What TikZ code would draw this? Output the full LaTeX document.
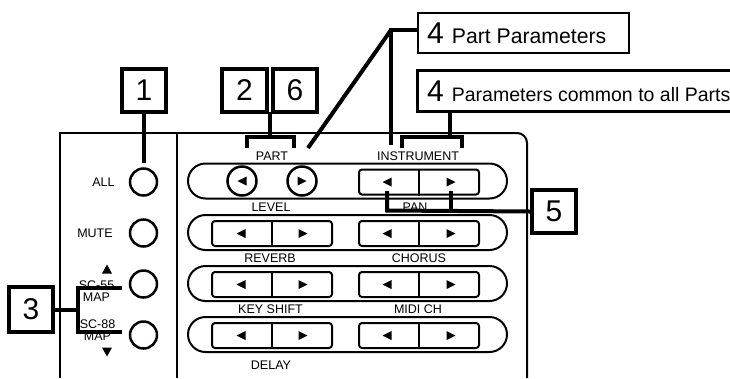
\documentclass[tikz,border=0pt]{standalone}
\usepackage{fontspec}
\setmainfont{Liberation Sans}
\usetikzlibrary{shapes.misc,calc}
\newcommand\trileft[1]{\fill (#1) ++(-4.5,0) -- ++(9,-4.5) -- ++(0,9) -- cycle;}
\newcommand\triright[1]{\fill (#1) ++(4.5,0) -- ++(-9,-4.5) -- ++(0,9) -- cycle;}
\begin{document}
\begin{tikzpicture}[x=1pt,y=-1pt,
 numbox/.style={draw,line width=4,inner sep=0,minimum height=43,minimum width=44,font=\fontsize{30}{30}\selectfont},
 txtbox/.style={draw,line width=2.8,inner sep=0,minimum height=40},
 conn/.style={line width=4},
 panel/.style={line width=2},
 lbl/.style={inner sep=0,font=\fontsize{12.5}{12}\selectfont},
 pill/.style={draw,rounded rectangle,line width=2,minimum width=319,minimum height=35,inner sep=0},
 btn/.style={draw,line width=2,rounded corners=3,minimum width=120,minimum height=25,inner sep=0},
 knob/.style={draw,circle,line width=2.5,minimum size=27,inner sep=0}
]
\useasboundingbox (0,0) rectangle (730,378);

% panel outlines
\draw[panel] (60,378) -- (60,133) -- (177,133);
\draw[panel] (177,378) -- (177,133) -- (450,133);
\draw[panel,rounded corners=10] (440,133) -- (527,133) -- (527,378);

% left panel buttons
\node[knob] (all) at (143.5,182) {};
\node[knob] (mute) at (143.5,233) {};
\node[knob] (sc55) at (143.5,284) {};
\node[knob] (sc88) at (143.5,335) {};
\node[lbl] (tall) at (103.5,182) {ALL};
\node[lbl] (tmute) at (95,233) {MUTE};
\node[lbl,align=center] (t55) at (96.5,291) {SC-55\\MAP};
\node[lbl,align=center] (t88) at (97.5,330) {SC-88\\MAP};
\fill (107,264.5) -- ++(5,9) -- ++(-10,0) -- cycle;
\fill (107,356.5) -- ++(5,-9) -- ++(-10,0) -- cycle;

% rows
\foreach \i/\y in {1/181,2/232.5,3/283.5,4/334.5}{
  \node[pill] (r\i) at (347.5,\y) {};
  \node[btn] (br\i) at (419,\y+1) {};
  \draw[line width=2] (br\i.north) -- (br\i.south);
  \trileft{[xshift=-32pt]br\i.center}
  \triright{[xshift=32pt]br\i.center}
}
\foreach \i/\y in {2/232.5,3/283.5,4/334.5}{
  \node[btn] (bl\i) at (272,\y+1) {};
  \draw[line width=2] (bl\i.north) -- (bl\i.south);
  \trileft{[xshift=-31pt]bl\i.center}
  \triright{[xshift=31pt]bl\i.center}
}
\node[knob,minimum size=29] (pl) at (242,181) {};
\node[knob,minimum size=29] (pr) at (302,181) {};
\trileft{pl.center}
\triright{pr.center}

% row labels
\node[lbl] (tpart) at (272,156) {PART};
\node[lbl] (tinst) at (418,156) {INSTRUMENT};
\node[lbl] (tlevel) at (271,207) {LEVEL};
\node[lbl] (tpan) at (415,207) {PAN};
\node[lbl] (trev) at (270,258) {REVERB};
\node[lbl] (tcho) at (419,258) {CHORUS};
\node[lbl] (tkey) at (270.5,309) {KEY SHIFT};
\node[lbl] (tmidi) at (418,309) {MIDI CH};
\node[lbl] (tdelay) at (271,365) {DELAY};

% number boxes
\node[numbox] (b1) at (144,90.5) {1};
\node[numbox,minimum width=45] (b2) at (244.5,90.5) {2};
\node[numbox] (b6) at (295,90.5) {6};
\node[numbox,minimum height=45] (b3) at (31,309.5) {3};
\node[numbox] (b5) at (554,211.5) {5};

\node[txtbox,minimum width=211] (pp) at (523.5,33) {};
\node[anchor=west,inner sep=0] (pptext) at (427,33)
  {\fontsize{30}{30}\selectfont 4\hspace{8pt}\fontsize{21.2}{21}\selectfont Part Parameters};
\node[minimum width=312,minimum height=40,inner sep=0] (cp) at (574,91) {};
\draw[line width=2.8] (cp.north east) -- (cp.north west) -- (cp.south west) -- (cp.south east);
\node[anchor=west,inner sep=0] (cptext) at (427,91)
  {\fontsize{30}{30}\selectfont 4\hspace{8pt}\fontsize{19.5}{19.5}\selectfont Parameters common to all Parts};

% connectors
\coordinate (k1) at (144,163);
\draw[conn] (b1.south) -- (k1);

\coordinate (k3) at (78,309.5);
\coordinate (k55) at (122,288);
\coordinate (k88) at (122,332);
\draw[conn] (b3.east) -- (k3);
\draw[conn] (k55) -- (78,288) -- (78,332) -- (k88);

\coordinate (j26) at (270,112);
\coordinate (k26) at (270,137);
\draw[conn] (j26) -- (k26);
\draw[conn] (247,148) -- (247,137) -- (294,137) -- (294,148);

\coordinate (kp) at (391,30);
\coordinate (kpi) at (391,145);
\coordinate (kpl) at (308,148);
\draw[conn] ([yshift=3pt]pp.west) -- (kp) -- (kpi);
\draw[conn] (kp) -- (kpl);

\coordinate (jc) at (450,111);
\coordinate (kc) at (450,137);
\draw[conn] (jc) -- (kc);
\draw[conn] (402,148) -- (402,137) -- (462,137) -- (462,148);

\coordinate (kpan1) at (387,191);
\coordinate (kpan2) at (451,191);
\draw[conn] (kpan1) -- (387,210.5) -- (b5.west);
\draw[conn] (kpan2) -- (451,210.5);
\end{tikzpicture}
\end{document}
